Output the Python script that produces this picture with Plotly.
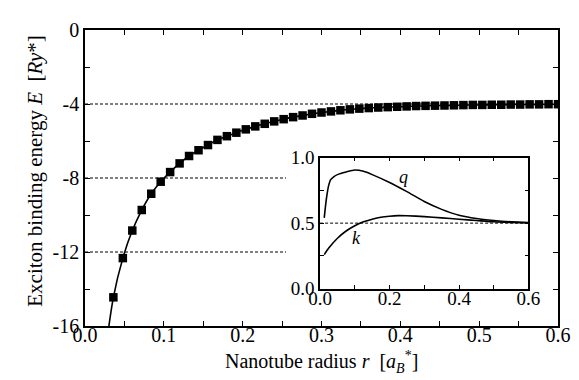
import plotly.graph_objects as go

# ---- main panel data ----
radius = [0.024, 0.036, 0.048, 0.060, 0.072, 0.084, 0.096, 0.108, 0.120, 0.132,
          0.144, 0.156, 0.168, 0.180, 0.192, 0.204, 0.216, 0.228, 0.240, 0.252,
          0.264, 0.276, 0.288, 0.300, 0.312, 0.324, 0.336, 0.348, 0.360, 0.372,
          0.384, 0.396, 0.408, 0.420, 0.432, 0.444, 0.456, 0.468, 0.480, 0.492,
          0.504, 0.516, 0.528, 0.540, 0.552, 0.564, 0.576, 0.588, 0.600]
energy = [-18.0, -14.45, -12.33, -10.84, -9.73, -8.85, -8.20, -7.68, -7.21, -6.81,
          -6.50, -6.22, -5.94, -5.74, -5.55, -5.37, -5.21, -5.07, -4.94, -4.82,
          -4.71, -4.62, -4.53, -4.46, -4.40, -4.34, -4.29, -4.25, -4.22, -4.19,
          -4.17, -4.15, -4.13, -4.11, -4.10, -4.09, -4.08, -4.07, -4.06, -4.05,
          -4.05, -4.04, -4.04, -4.03, -4.03, -4.02, -4.02, -4.01, -4.01]

ref_full = -4
ref_short = [-8, -12]
ref_short_end = 0.255

y_tickvals = [0, -2, -4, -6, -8, -10, -12, -14, -16]
y_ticktext = ["0", " ", "-4", " ", "-8", " ", "-12", " ", "-16"]
x_tickvals = [0.0, 0.05, 0.1, 0.15, 0.2, 0.25, 0.3, 0.35, 0.4, 0.45, 0.5, 0.55, 0.6]
x_ticktext = ["0.0", " ", "0.1", " ", "0.2", " ", "0.3", " ", "0.4", " ", "0.5", " ", "0.6"]

x_title = "Nanotube radius <i>r</i>  [<i>a</i><sub><i>B</i></sub><sup>*</sup>]"
y_title = "Exciton binding energy <i>E</i>  [<i>Ry</i>*]"

# ---- inset data ----
r_q = [0.012, 0.016, 0.02, 0.025, 0.03, 0.04, 0.05, 0.075, 0.1, 0.125, 0.15, 0.2,
       0.25, 0.3, 0.35, 0.4, 0.45, 0.5, 0.55, 0.6]
q_vals = [0.54, 0.64, 0.72, 0.79, 0.83, 0.855, 0.87, 0.89, 0.905, 0.895, 0.87, 0.81,
          0.74, 0.665, 0.605, 0.56, 0.535, 0.52, 0.51, 0.505]
r_k = [0.012, 0.025, 0.05, 0.075, 0.1, 0.125, 0.15, 0.175, 0.2, 0.225, 0.25, 0.3,
       0.35, 0.4, 0.45, 0.5, 0.55, 0.6]
k_vals = [0.26, 0.31, 0.385, 0.44, 0.48, 0.51, 0.53, 0.545, 0.553, 0.557, 0.556,
          0.55, 0.54, 0.53, 0.52, 0.51, 0.505, 0.502]
inset_ref = 0.5
in_x_tickvals = [0.0, 0.1, 0.2, 0.3, 0.4, 0.5, 0.6]
in_x_ticktext = ["0.0", " ", "0.2", " ", "0.4", " ", "0.6"]
in_y_tickvals = [0.0, 0.25, 0.5, 0.75, 1.0]
in_y_ticktext = ["0.0", " ", "0.5", " ", "1.0"]

FONT = "Liberation Serif, Times New Roman, Times, serif"

fig = go.Figure()
fig.add_trace(go.Scatter(
    x=radius, y=energy, mode="lines+markers",
    line=dict(color="black", width=1.6, shape="spline", smoothing=0.8),
    marker=dict(symbol="square", size=8.5, color="black"),
    showlegend=False, cliponaxis=True))

fig.add_trace(go.Scatter(x=r_q, y=q_vals, mode="lines", xaxis="x2", yaxis="y2",
                         line=dict(color="black", width=1.6, shape="spline", smoothing=0.6),
                         showlegend=False))
fig.add_trace(go.Scatter(x=r_k, y=k_vals, mode="lines", xaxis="x2", yaxis="y2",
                         line=dict(color="black", width=1.6, shape="spline", smoothing=0.6),
                         showlegend=False))

dash = dict(color="black", width=1, dash="3px,2px")
fig.add_shape(type="line", xref="x", yref="y", x0=0, x1=0.6, y0=ref_full, y1=ref_full,
              line=dash, layer="below")
for lv in ref_short:
    fig.add_shape(type="line", xref="x", yref="y", x0=0, x1=ref_short_end, y0=lv, y1=lv,
                  line=dash, layer="below")
fig.add_shape(type="line", xref="x2", yref="y2", x0=0, x1=0.6, y0=inset_ref, y1=inset_ref,
              line=dash, layer="below")

fig.add_annotation(x=0.24, y=0.85, xref="x2", yref="y2", text="<i>q</i>",
                   showarrow=False, font=dict(family=FONT, size=18, color="black"))
fig.add_annotation(x=0.105, y=0.385, xref="x2", yref="y2", text="<i>k</i>",
                   showarrow=False, font=dict(family=FONT, size=18, color="black"))

# axis titles as paper annotations for exact placement
fig.add_annotation(x=0.5, y=-0.122, xref="paper", yref="paper", text=x_title,
                   showarrow=False, xanchor="center", yanchor="middle",
                   font=dict(family=FONT, size=20, color="black"))
fig.add_annotation(x=-0.106, y=0.524, xref="paper", yref="paper", text=y_title,
                   showarrow=False, xanchor="center", yanchor="middle", textangle=-90,
                   font=dict(family=FONT, size=21, color="black"))

ax_common = dict(showline=True, linecolor="black", linewidth=1.5, mirror="ticks",
                 ticks="inside", tickcolor="black", showgrid=False, zeroline=False)

fig.update_layout(
    width=579, height=380,
    margin=dict(l=77, r=29, t=11, b=62),
    paper_bgcolor="white", plot_bgcolor="white",
    font=dict(family=FONT, color="black"),
    xaxis=dict(range=[0, 0.6], tickvals=x_tickvals, ticktext=x_ticktext, ticklen=5,
               tickfont=dict(family=FONT, size=20, color="black"), ticklabelstandoff=-10,
               **ax_common),
    yaxis=dict(range=[-16, 0], tickvals=y_tickvals, ticktext=y_ticktext, ticklen=5,
               tickfont=dict(family=FONT, size=20, color="black"),
               **ax_common),
    xaxis2=dict(domain=[0.497, 0.9376], anchor="y2", range=[0, 0.6],
                tickvals=in_x_tickvals, ticktext=in_x_ticktext, ticklen=4,
                ticklabelstandoff=-8,
                tickfont=dict(family=FONT, size=19, color="black"), **ax_common),
    yaxis2=dict(domain=[0.126, 0.569], anchor="x2", range=[0, 1],
                tickvals=in_y_tickvals, ticktext=in_y_ticktext, ticklen=4,
                tickfont=dict(family=FONT, size=19, color="black"), **ax_common),
)

fig.write_html("out.html")
